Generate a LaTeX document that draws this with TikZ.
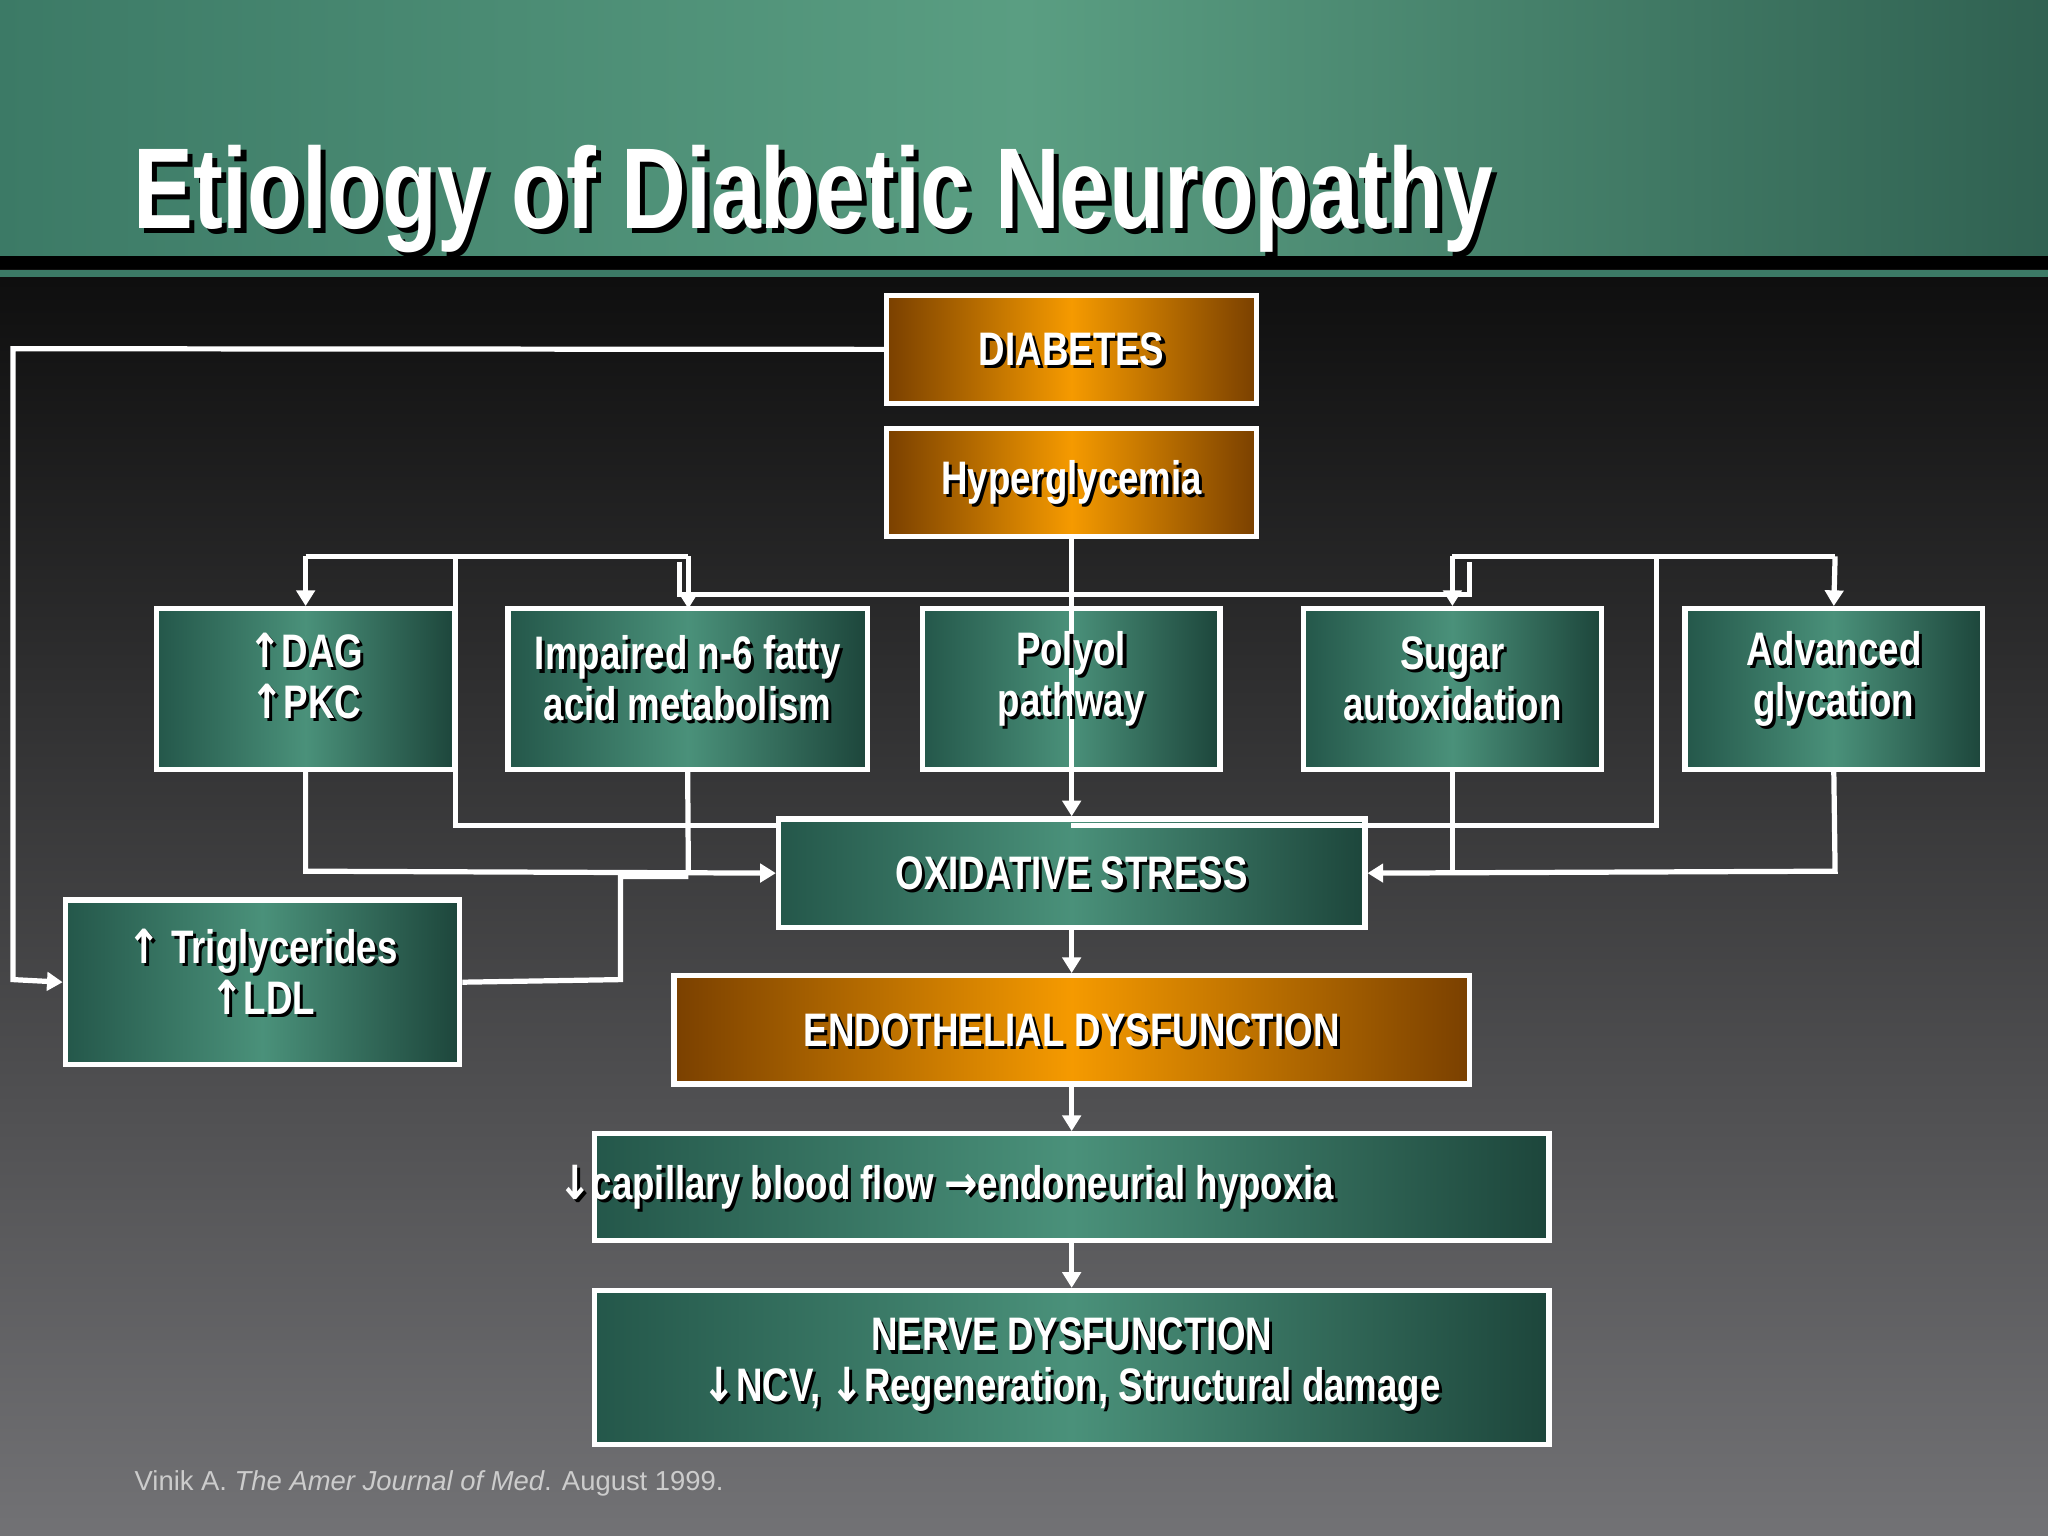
\documentclass[tikz,border=0pt]{standalone}
\usepackage{fontspec}
\setmainfont{Liberation Sans}
\newfontfamily\condf{Liberation Sans}[FakeStretch=0.78]
\newfontfamily\arrf{DejaVu Sans}[FakeStretch=0.85]
\usetikzlibrary{arrows.meta}
\definecolor{gdark}{HTML}{24574A}
\definecolor{glight}{HTML}{4A917A}
\definecolor{odark}{HTML}{7A4000}
\definecolor{olight}{HTML}{F59A00}
\definecolor{band1}{HTML}{3C7A66}
\definecolor{band2}{HTML}{5A9E82}
\definecolor{bgtop}{HTML}{0E0E0E}
\definecolor{bgbot}{HTML}{727275}
\newcommand\ua{{\arrf\bfseries ↑}}
\newcommand\da{{\arrf\bfseries ↓}}
\newcommand\ra{{\arrf\bfseries →}}
\tikzset{
 gbox/.style={draw=white,line width=2pt,left color=gdark,right color=gdark!80!black,middle color=glight},
 obox/.style={draw=white,line width=2pt,left color=odark,right color=odark,middle color=olight},
 txt/.style={text=white,font=\condf\bfseries\fontsize{18}{19.5}\selectfont,align=center},
 shd/.style={text=black,font=\condf\bfseries\fontsize{18}{19.5}\selectfont,align=center},
 con/.style={draw=white,line width=2pt},
 arr/.style={con,-{Triangle[length=6pt,width=7pt]}},
}
\newcommand\bx[6]{\node[#6,minimum width={(#4-#2)*0.5pt},minimum height={(#5-#3)*0.5pt},inner sep=0pt] (#1) at ({(#2+#4)/2},{(#3+#5)/2}) {};}
\newcommand\tx[5]{\node[shd,xshift={#3+1.2pt},yshift={#4-1.2pt}] (#1s) at (#2.center) {#5};\node[txt,xshift=#3,yshift=#4] (#1t) at (#2.center) {#5};}
\begin{document}
\begin{tikzpicture}[x=0.5pt,y=-0.5pt]
\useasboundingbox (0,0) rectangle (1568,1176);
\fill[top color=bgtop,bottom color=bgbot] (0,205) rectangle (1568,1176);
\fill[left color=band1,right color=band1!80!black,middle color=band2] (0,0) rectangle (1568,196);
\fill[black] (0,196) rectangle (1568,206);
\fill[band1] (0,207) rectangle (1568,212);
\node[text=black,font=\condf\bfseries\fontsize{44}{48}\selectfont,anchor=base west] (titles) at (99,179) {Etiology of Diabetic Neuropathy};
\node[text=white,font=\condf\bfseries\fontsize{44}{48}\selectfont,anchor=base west] (title) at (95,175) {Etiology of Diabetic Neuropathy};
% boxes
\bx{diab}{679}{226}{962}{309}{obox}
\bx{hyp}{679}{328}{962}{411}{obox}
\bx{dag}{120}{466}{348}{589}{gbox}
\bx{imp}{389}{466}{664}{589}{gbox}
\bx{pol}{706}{466}{934}{589}{gbox}
\bx{sug}{998}{466}{1226}{589}{gbox}
\bx{adv}{1290}{466}{1518}{589}{gbox}
\bx{oxi}{596}{627}{1045}{710}{gbox}
\bx{tri}{50}{689}{352}{815}{gbox}
\bx{endo}{516}{747}{1125}{830}{obox}
\bx{cap}{455}{868}{1186}{950}{gbox}
\bx{nerve}{455}{988}{1186}{1106}{gbox}
% connectors
\coordinate (c1) at (10,267);
\coordinate (c2) at (10,750);
\draw[arr] (diab.west) -- (c1) -- (c2) -- (tri.west);
\coordinate (h1) at (520,455);
\coordinate (h2) at (1125,455);
\draw[con] (520,430) -- (h1) -- (h2) -- (1125,430);
\draw[con] (234,426) -- (527,426);
\draw[arr] (234,426) -- (dag.north);
\draw[arr] (527,426) -- (527,466);
\draw[con] (349,426) -- (349,632) -- (596,632);
\draw[con] (1112,426) -- (1405,426);
\draw[arr] (1112,426) -- (sug.north);
\draw[arr] (1405,426) -- (adv.north);
\draw[con] (1268,426) -- (1268,632) -- (820,632);
\draw[arr] (hyp.south) -- (oxi.north);
\draw[arr] (dag.south) -- (234,667) -- (oxi.west);
\draw[con] (imp.south) -- (527,667);
\draw[arr] (adv.south) -- (1405,667) -- (oxi.east);
\draw[con] (sug.south) -- (1112,667);
\draw[con] (tri.east) -- (475,750) -- (475,671) -- (527,671);
\draw[arr] (oxi.south) -- (endo.north);
\draw[arr] (endo.south) -- (cap.north);
\draw[arr] (cap.south) -- (nerve.north);
% texts
\tx{diabx}{diab}{0pt}{0pt}{DIABETES}
\tx{hypx}{hyp}{0pt}{0pt}{Hyperglycemia}
\tx{dagx}{dag}{0pt}{5pt}{\ua DAG\\\ua PKC}
\tx{impx}{imp}{0pt}{4pt}{Impaired n-6 fatty\\acid metabolism}
\tx{polx}{pol}{0pt}{4pt}{Polyol\\pathway}
\tx{sugx}{sug}{0pt}{4pt}{Sugar\\autoxidation}
\tx{advx}{adv}{0pt}{4pt}{Advanced\\glycation}
\tx{oxix}{oxi}{0pt}{0pt}{OXIDATIVE STRESS}
\tx{trix}{tri}{0pt}{4pt}{\ua\ Triglycerides\\\ua LDL}
\tx{endox}{endo}{0pt}{0pt}{ENDOTHELIAL DYSFUNCTION}
\tx{capx}{cap}{-48pt}{0pt}{\da capillary blood flow \ra endoneurial hypoxia}
\tx{nervex}{nerve}{0pt}{1pt}{NERVE DYSFUNCTION\\\da NCV, \da Regeneration, Structural damage}
\node[anchor=base west,text=black!20,font=\fontsize{10.5}{12}\selectfont] (cite) at (96,1141) {Vinik A. \textit{The Amer Journal of Med}. August 1999.};
\end{tikzpicture}
\end{document}
